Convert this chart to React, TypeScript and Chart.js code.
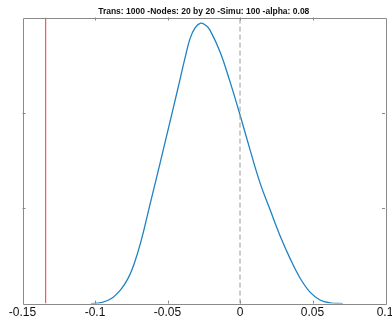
import React, { useEffect, useRef } from "react";
import { Chart, registerables } from "chart.js";

Chart.register(...registerables);

const TITLE = "Trans: 1000 -Nodes: 20 by 20 -Simu: 100 -alpha: 0.08";

// density curve (x values and estimated density)
const curveX = [
  -0.1028, -0.0959, -0.089, -0.0821, -0.0772, -0.0731, -0.0683, -0.0621, -0.0552,
  -0.0483, -0.0432, -0.0379, -0.0345, -0.031, -0.0271, -0.0234, -0.0207,
  -0.0138, -0.0069, 0, 0.0069, 0.0138, 0.0207, 0.0276, 0.0345, 0.0414, 0.0483,
  0.0552, 0.0621, 0.071,
];
const curveY = [
  0, 0.05, 0.25, 0.75, 1.32, 2.06, 3.26, 5.19, 7.34, 9.53, 11.16, 12.88, 13.88,
  14.45, 14.7, 14.58, 14.34, 13.21, 11.64, 9.9, 8.07, 6.33, 4.93, 3.56, 2.37,
  1.34, 0.6, 0.19, 0.04, 0,
];

const redLineX = -0.134;
const zeroLineX = 0;

const xMin = -0.15;
const xMax = 0.1;
const xStep = 0.05;
const yMin = 0;
const yMax = 15;
const yStep = 5;

const framePlugin = {
  id: "matlabFrame",
  afterDatasetsDraw(chart: any) {
    const { ctx, chartArea } = chart;
    const { left, right, top, bottom } = chartArea;
    const xs = chart.scales.x;
    const ys = chart.scales.y;
    ctx.save();
    ctx.strokeStyle = "#8a8a8a";
    ctx.lineWidth = 1;
    ctx.beginPath();
    ctx.rect(Math.round(left) + 0.5, Math.round(top) + 0.5, Math.round(right - left), Math.round(bottom - top));
    ctx.stroke();
    const tl = 3;
    ctx.beginPath();
    xs.ticks.forEach((t: any) => {
      if (t.value <= xMin + 1e-9 || t.value >= xMax - 1e-9) return;
      const px = Math.round(xs.getPixelForValue(t.value)) + 0.5;
      ctx.moveTo(px, bottom);
      ctx.lineTo(px, bottom - tl);
      ctx.moveTo(px, top);
      ctx.lineTo(px, top + tl);
    });
    ys.ticks.forEach((t: any) => {
      if (t.value <= yMin + 1e-9 || t.value >= yMax - 1e-9) return;
      const py = Math.round(ys.getPixelForValue(t.value)) + 0.5;
      ctx.moveTo(left, py);
      ctx.lineTo(left + tl, py);
      ctx.moveTo(right, py);
      ctx.lineTo(right - tl, py);
    });
    ctx.stroke();
    ctx.restore();
  },
};

export default function App() {
  const ref = useRef<HTMLCanvasElement | null>(null);

  useEffect(() => {
    if (!ref.current) return;
    const curve = curveX.map((x, i) => ({ x, y: curveY[i] }));
    const chart = new Chart(ref.current, {
      type: "line",
      data: {
        datasets: [
          {
            data: [
              { x: zeroLineX, y: yMin },
              { x: zeroLineX, y: yMax },
            ],
            borderColor: "#9a9a9a",
            borderWidth: 1,
            borderDash: [5, 3],
            pointRadius: 0,
          },
          {
            data: [
              { x: redLineX, y: yMin },
              { x: redLineX, y: yMax },
            ],
            borderColor: "#ff3030",
            borderWidth: 1,
            pointRadius: 0,
          },
          {
            data: curve,
            borderColor: "#1f82c3",
            borderWidth: 1.3,
            pointRadius: 0,
            tension: 0.4,
          },
        ],
      },
      options: {
        animation: false,
        responsive: false,
        devicePixelRatio: 1,
        layout: { padding: { left: 22.5, right: 7, top: 0, bottom: 0 } },
        plugins: {
          legend: { display: false },
          tooltip: { enabled: false },
          title: {
            display: true,
            text: TITLE,
            color: "#111",
            font: { family: "Liberation Sans, Arial, sans-serif", size: 8.5, weight: "bold" },
            padding: { top: 6.6, bottom: 0.7 },
          },
        },
        scales: {
          x: {
            type: "linear",
            min: xMin,
            max: xMax,
            grid: { display: false, drawTicks: false },
            border: { display: false },
            afterFit(scale: any) {
              scale.paddingLeft = 0;
              scale.paddingRight = 0;
            },
            ticks: {
              stepSize: xStep,
              padding: 2,
              maxRotation: 0,
              autoSkip: false,
              color: "#111",
              font: { family: "Liberation Sans, Arial, sans-serif", size: 12 },
              callback: (v: any) => String(parseFloat(Number(v).toFixed(2))),
            },
          },
          y: {
            type: "linear",
            display: false,
            min: yMin,
            max: yMax,
            ticks: { stepSize: yStep },
          },
        },
      },
      plugins: [framePlugin],
    } as any);
    return () => chart.destroy();
  }, []);

  return (
    <div style={{ position: "fixed", left: 0, top: 0, width: 392, height: 322, background: "#fff" }}>
      <canvas ref={ref} width={392} height={322} style={{ display: "block" }} />
    </div>
  );
}
